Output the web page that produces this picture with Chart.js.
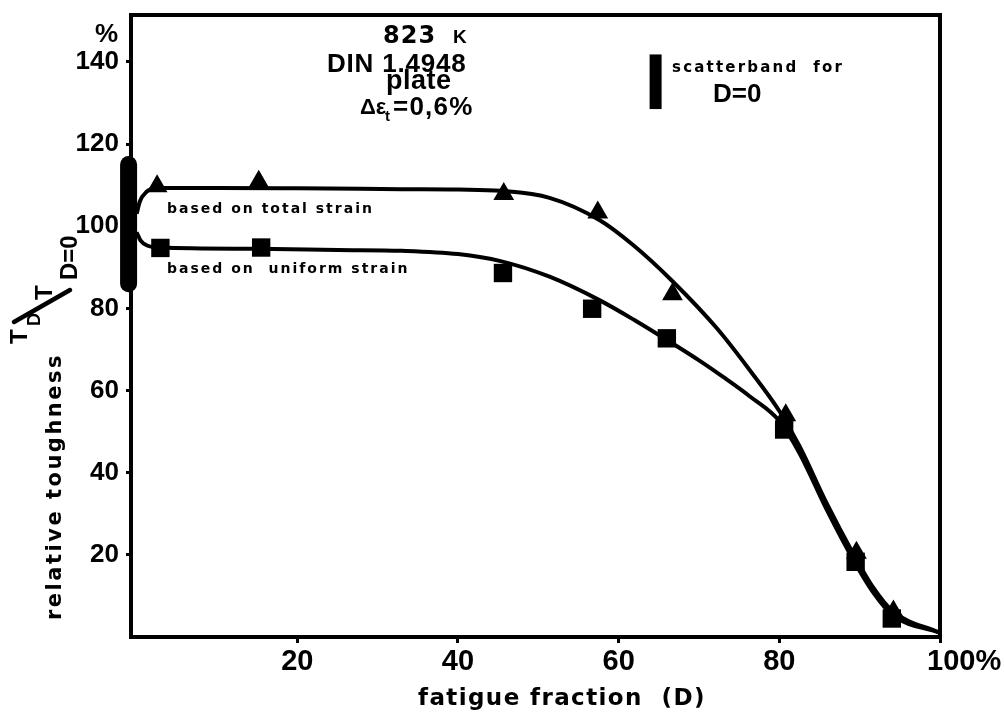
<!DOCTYPE html>
<html>
<head>
<meta charset="utf-8">
<script src="https://cdn.jsdelivr.net/npm/chart.js@4.4.1/dist/chart.umd.min.js"></script>
<style>
  html, body { margin: 0; padding: 0; background: #fff; }
  #chart { display: block; }
</style>
</head>
<body>
<canvas id="chart" width="1004" height="716"></canvas>
<script>
// tick values
const xTicks = [20, 40, 60, 80, 100];
const yTicks = [20, 40, 60, 80, 100, 120, 140];

// measured points (fatigue fraction D in %, relative toughness in %)
const totalPts = [
  [2.55, 109.7], [15.2, 110.8], [45.7, 107.8], [57.4, 103.3],
  [66.7, 83.4], [80.8, 54.0], [89.6, 20.5], [94.2, 6.2]
];
const uniformPts = [
  [2.96, 94.7], [15.5, 94.8], [45.6, 88.6], [56.7, 79.9],
  [66.0, 72.7], [80.6, 50.5], [89.5, 18.3], [94.0, 4.5]
];

// hand-fitted trend curves
const totalCurve = [
  [0, 103], [0.4, 106], [1.2, 108.3], [2.5, 109.3], [10, 109.3], [20, 109.2],
  [33, 109], [40, 108.9], [45.3, 108.6], [51.4, 106.9], [57.6, 101.5],
  [61.8, 95.4], [66.7, 86.6], [72.2, 75.2], [76.3, 65], [80, 55],
  [82.5, 46.5], [85.9, 32.5], [89.2, 20.3], [91.7, 12], [94.1, 6.3], [100, 1]
];
const uniformCurve = [
  [0, 98.5], [0.5, 96.5], [1.3, 95.3], [3, 94.8], [15, 94.5], [25, 94.2],
  [33, 94], [40, 93.2], [45.3, 91.5], [51.4, 87.7], [57.6, 82], [62, 77.1],
  [66, 72.3], [70.1, 67.2], [73, 63.3], [76.3, 58.6], [80, 52.6], [82.5, 44.8],
  [85.9, 31], [89.2, 18.8], [91.7, 10.8], [94.1, 5.3], [100, 1]
];

// scatterband for D = 0 and its key
const bandX = -1;
const bandRange = [86, 115];
const keyX = 64.6;
const keyRange = [128.5, 141.8];

const pts = arr => arr.map(p => ({ x: p[0], y: p[1] }));

// frame around the plot area
const framePlugin = {
  id: 'frame',
  beforeDatasetsDraw(chart) {
    const { ctx, chartArea: a } = chart;
    ctx.save();
    ctx.strokeStyle = '#000';
    ctx.lineWidth = 4;
    ctx.strokeRect(a.left, a.top, a.right - a.left, a.bottom - a.top);
    ctx.restore();
  }
};

function txt(ctx, s, x, y, font, spacing) {
  ctx.font = font;
  ctx.letterSpacing = (spacing || 0) + 'px';
  ctx.fillText(s, x, y);
}

// labels, annotations and axis titles
const labelPlugin = {
  id: 'labels',
  afterDraw(chart) {
    const ctx = chart.ctx;
    ctx.save();
    ctx.fillStyle = '#000';
    ctx.strokeStyle = '#000';
    ctx.textBaseline = 'alphabetic';
    ctx.textAlign = 'left';

    txt(ctx, '%', 95, 42, 'bold 26px "Liberation Sans"');

    // test conditions
    txt(ctx, '823', 383, 43, 'bold 24px "DejaVu Sans"', 1);
    txt(ctx, 'K', 453, 43, 'bold 19px "Liberation Sans"');
    txt(ctx, 'DIN 1.4948', 327, 72, 'bold 26px "Liberation Sans"', 0.8);
    txt(ctx, 'plate', 386, 89, 'bold 27px "Liberation Sans"', 0.5);
    txt(ctx, 'Δε', 360, 114, 'bold 22px "Liberation Sans"');
    txt(ctx, 't', 385, 121, 'bold 15px "Liberation Sans"');
    txt(ctx, '=0,6%', 393, 115, 'bold 26px "Liberation Sans"', 1.2);

    // key
    txt(ctx, 'scatterband  for', 672, 72, 'bold 15px "DejaVu Sans"', 2.2);
    txt(ctx, 'D=0', 713, 102, 'bold 26px "Liberation Sans"');

    // curve labels
    txt(ctx, 'based on total strain', 167, 213, 'bold 14px "DejaVu Sans"', 2);
    txt(ctx, 'based on  uniform strain', 167, 273, 'bold 14px "DejaVu Sans"', 2);

    // x title
    txt(ctx, 'fatigue fraction  (D)', 418, 705, 'bold 23px "DejaVu Sans"', 1.4);

    // y title, rotated
    ctx.save();
    ctx.translate(61, 620);
    ctx.rotate(-Math.PI / 2);
    txt(ctx, 'relative toughness', 0, 0, 'bold 21px "DejaVu Sans"', 2.5);
    ctx.restore();

    ctx.save();
    ctx.translate(0, 380);
    ctx.rotate(-Math.PI / 2);
    txt(ctx, 'T', 36, 27, 'bold 24px "Liberation Sans"');
    txt(ctx, 'D', 54, 40, 'bold 18px "Liberation Sans"');
    txt(ctx, 'T', 80, 52, 'bold 24px "Liberation Sans"');
    txt(ctx, 'D=0', 100, 77, 'bold 24px "Liberation Sans"');
    ctx.restore();
    ctx.lineWidth = 4.5;
    ctx.lineCap = 'round';
    ctx.beginPath();
    ctx.moveTo(14, 322);
    ctx.lineTo(70, 290);
    ctx.stroke();

    ctx.restore();
  }
};

const axisFont = { family: '"Liberation Sans", Arial, sans-serif', weight: 'bold' };

new Chart(document.getElementById('chart'), {
  type: 'scatter',
  data: {
    datasets: [
      {
        label: 'total strain',
        data: pts(totalPts),
        pointStyle: 'triangle',
        pointRadius: 12,
        backgroundColor: '#000',
        borderWidth: 0,
        order: 1
      },
      {
        label: 'uniform strain',
        data: pts(uniformPts),
        pointStyle: 'rect',
        pointRadius: 13,
        backgroundColor: '#000',
        borderWidth: 0,
        order: 1
      },
      {
        label: 'total strain fit',
        data: pts(totalCurve),
        showLine: true,
        cubicInterpolationMode: 'monotone',
        borderColor: '#000',
        borderWidth: 4,
        pointRadius: 0,
        order: 2
      },
      {
        label: 'uniform strain fit',
        data: pts(uniformCurve),
        showLine: true,
        cubicInterpolationMode: 'monotone',
        borderColor: '#000',
        borderWidth: 4,
        pointRadius: 0,
        order: 2
      },
      {
        label: 'scatterband',
        data: [{ x: bandX, y: bandRange[0] }, { x: bandX, y: bandRange[1] }],
        showLine: true,
        borderColor: '#000',
        borderWidth: 17,
        borderCapStyle: 'round',
        pointRadius: 0,
        clip: false,
        order: 0
      },
      {
        label: 'scatterband key',
        data: [{ x: keyX, y: keyRange[0] }, { x: keyX, y: keyRange[1] }],
        showLine: true,
        borderColor: '#000',
        borderWidth: 12,
        pointRadius: 0,
        order: 0
      }
    ]
  },
  options: {
    responsive: false,
    animation: false,
    devicePixelRatio: 1,
    layout: { padding: { top: 15, right: 64, bottom: 0, left: 0 } },
    plugins: { legend: { display: false }, tooltip: { enabled: false } },
    scales: {
      x: {
        type: 'linear',
        min: -0.7,
        max: 100,
        afterBuildTicks: s => { s.ticks = xTicks.map(v => ({ value: v })); },
        afterFit: s => { s.height = 79; s.paddingLeft = 0; s.paddingRight = 0; },
        ticks: {
          callback: v => v === 100 ? '      100%' : String(v),
          font: { ...axisFont, size: 29 },
          color: '#000',
          maxRotation: 0,
          autoSkip: false,
          padding: 2
        },
        grid: { drawOnChartArea: false, tickLength: 6, color: '#000', lineWidth: 3 },
        border: { color: '#000', width: 4 }
      },
      y: {
        type: 'linear',
        min: 0,
        max: 151.4,
        afterBuildTicks: s => { s.ticks = yTicks.map(v => ({ value: v })); },
        afterFit: s => { s.width = 131; s.paddingTop = 0; s.paddingBottom = 0; },
        ticks: {
          font: { ...axisFont, size: 26 },
          color: '#000',
          padding: 7
        },
        grid: { drawOnChartArea: false, tickLength: 5, color: '#000', lineWidth: 3 },
        border: { color: '#000', width: 4 }
      }
    }
  },
  plugins: [framePlugin, labelPlugin]
});
</script>
</body>
</html>
